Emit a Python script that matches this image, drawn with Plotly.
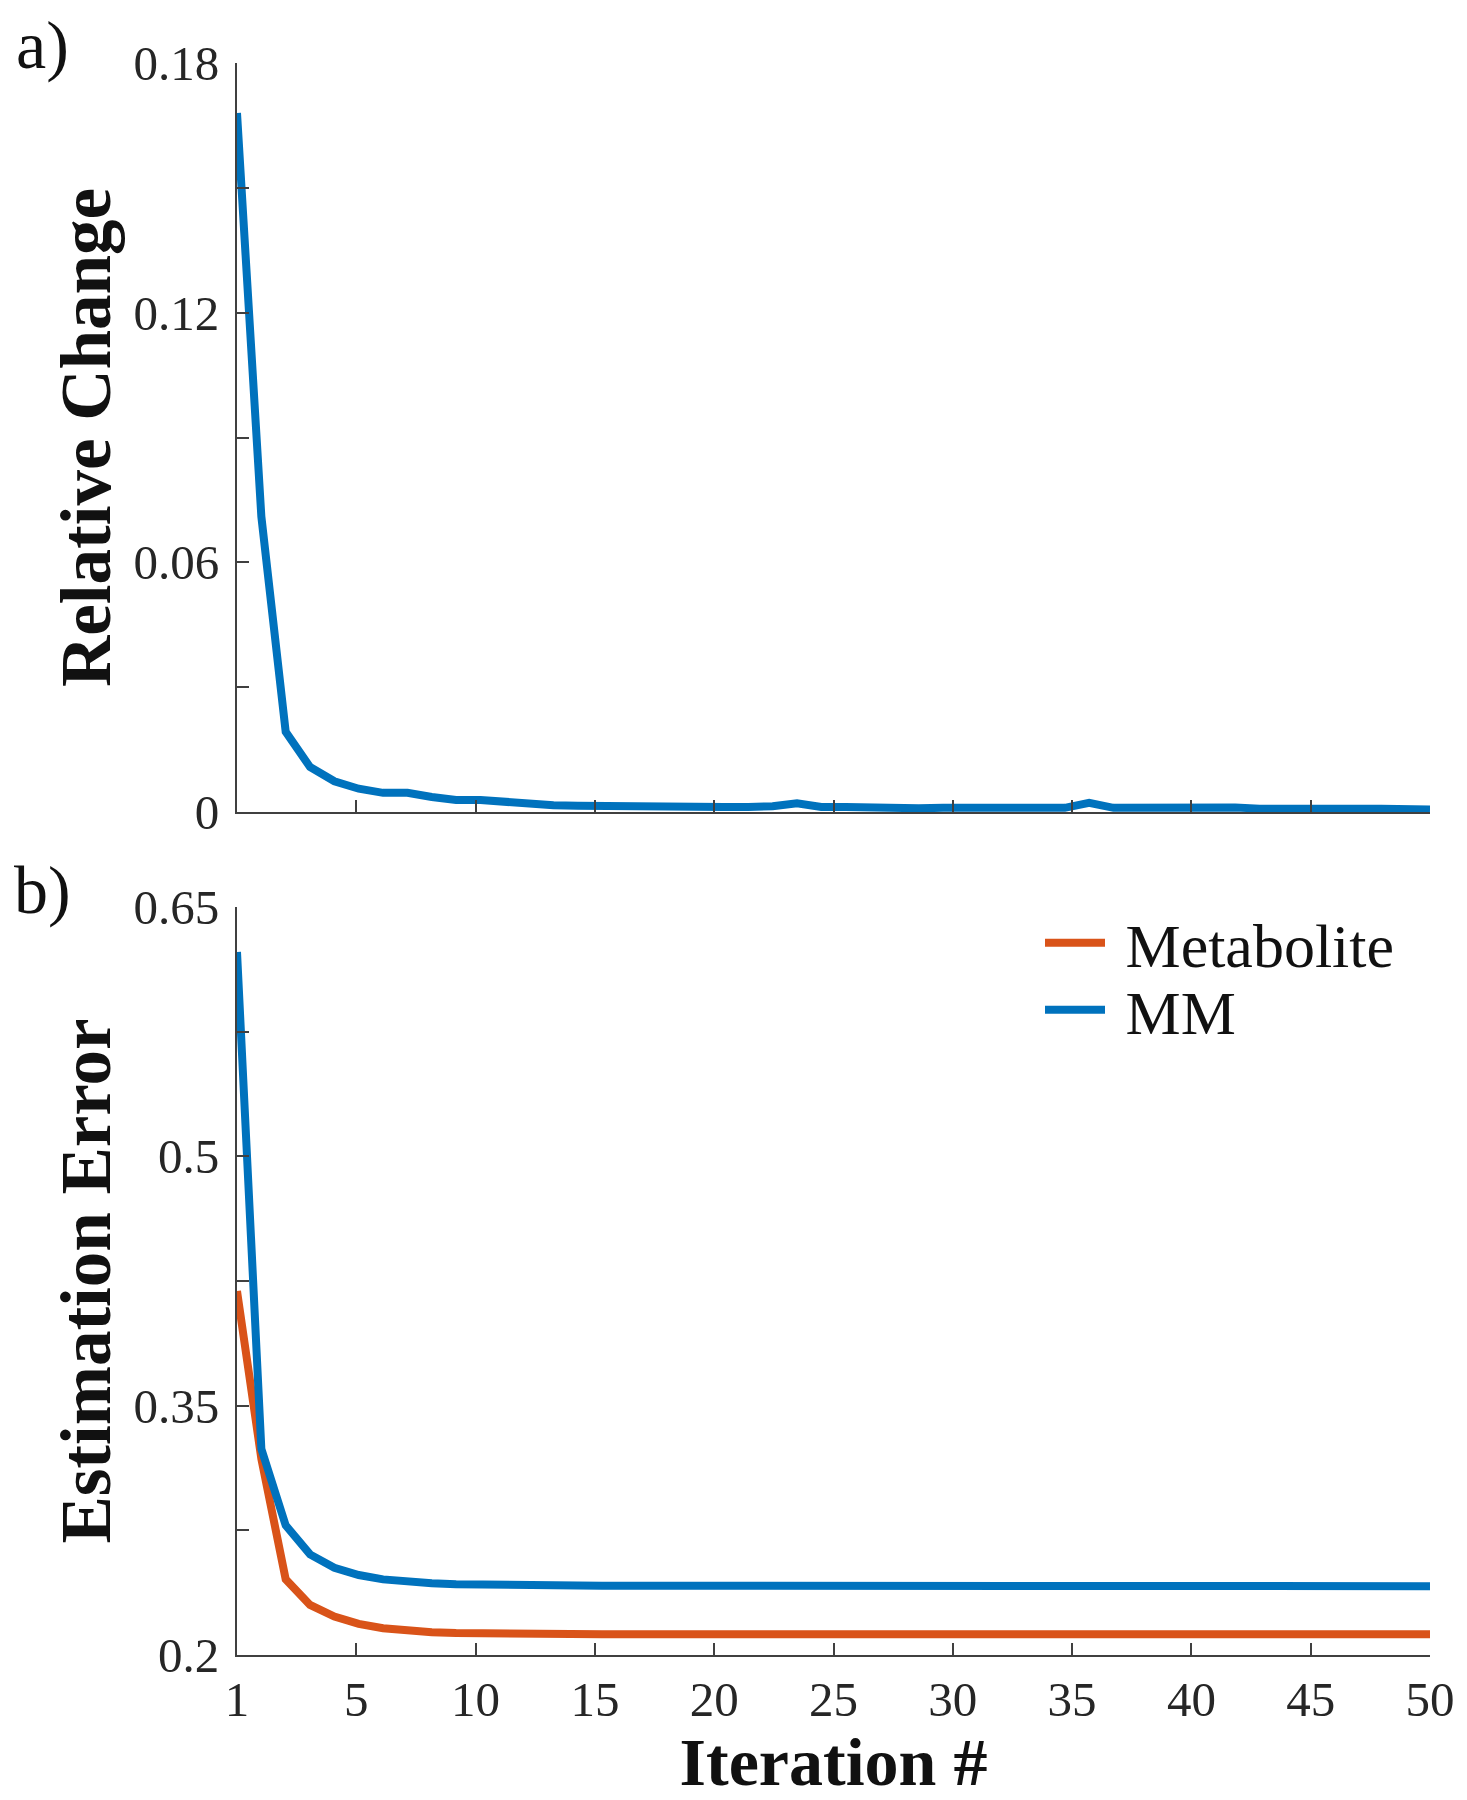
import plotly.graph_objects as go

iterations = list(range(1, 51))

relative_change = [
    0.168, 0.071, 0.0193, 0.0108, 0.0074, 0.0056, 0.0046, 0.0046, 0.0036, 0.0029,
    0.0029, 0.0025, 0.0017, 0.0016, 0.0015, 0.0014, 0.0012, 0.0011, 0.0011, 0.0011,
    0.0012, 0.0012, 0.0014, 0.0021, 0.0012, 0.0012, 0.0010, 0.0009, 0.0009, 0.0010,
    0.0009, 0.0009, 0.0010, 0.0010, 0.0010, 0.0022, 0.0010, 0.0011, 0.0011, 0.0013,
    0.0010, 0.0011, 0.0008, 0.0007, 0.0007, 0.0007, 0.0008, 0.0008, 0.0007, 0.0006,
]

metabolite_error = [
    0.419, 0.318, 0.2455, 0.2301, 0.2231, 0.2187, 0.2161, 0.2145, 0.2137, 0.2132,
    0.2129, 0.2127, 0.2126, 0.2125, 0.2125, 0.2125, 0.2125, 0.2125, 0.2125, 0.2125,
    0.2125, 0.2125, 0.2125, 0.2125, 0.2125, 0.2125, 0.2125, 0.2125, 0.2125, 0.2125,
    0.2125, 0.2125, 0.2125, 0.2125, 0.2125, 0.2125, 0.2125, 0.2125, 0.2125, 0.2125,
    0.2125, 0.2125, 0.2125, 0.2125, 0.2125, 0.2125, 0.2125, 0.2125, 0.2125, 0.2125,
]

mm_error = [
    0.623, 0.324, 0.278, 0.2605, 0.2525, 0.2481, 0.2455, 0.2440, 0.2431, 0.2426,
    0.2422, 0.2420, 0.2419, 0.2418, 0.2418, 0.2417, 0.2417, 0.2416, 0.2416, 0.2416,
    0.2415, 0.2415, 0.2415, 0.2415, 0.2415, 0.2415, 0.2415, 0.2415, 0.2415, 0.2415,
    0.2414, 0.2414, 0.2414, 0.2414, 0.2414, 0.2414, 0.2414, 0.2414, 0.2414, 0.2414,
    0.2414, 0.2414, 0.2414, 0.2414, 0.2414, 0.2414, 0.2414, 0.2414, 0.2414, 0.2414,
]

# tick labels as printed; in the original the ticks sit on a 0..50 grid stretched over iterations 1..50
x_tick_grid = [0, 5, 10, 15, 20, 25, 30, 35, 40, 45, 50]
x_ticktext = ["1", "5", "10", "15", "20", "25", "30", "35", "40", "45", "50"]
top_tickvals = [0, 0.03, 0.06, 0.09, 0.12, 0.15, 0.18]
top_ticktext = ["0", "", "0.06", "", "0.12", "", "0.18"]
bot_tickvals = [0.2, 0.275, 0.35, 0.425, 0.5, 0.575, 0.65]
bot_ticktext = ["0.2", "", "0.35", "", "0.5", "", "0.65"]

it_min, it_max = iterations[0], iterations[-1]
x_tickvals = [it_min + g * (it_max - it_min) / x_tick_grid[-1] for g in x_tick_grid]

BLUE = "#0072BD"
ORANGE = "#D95319"
AXC = "#404040"
FONT = "Liberation Serif"
LW = 8

# page offset from the default 8px body margin
OFF = 8
W, H = 1467 - OFF, 1800 - OFF
# plot area in page pixels: x 237..1430, y 63..1655
PX0, PX1, PY0, PY1 = 237, 1430, 63, 1655
L, R = PX0 - OFF, (W + OFF) - PX1
T, B = PY0 - OFF, (H + OFF) - PY1
plot_w = PX1 - PX0
plot_h = PY1 - PY0


def px_x(p):
    return (p - PX0) / plot_w


def px_y(p):
    return (PY1 - p) / plot_h


top_dom = [px_y(812), 1.0]
bot_dom = [0.0, px_y(907)]

fig = go.Figure()
fig.add_trace(go.Scatter(x=iterations, y=relative_change, mode="lines",
                         line=dict(color=BLUE, width=LW), showlegend=False,
                         xaxis="x", yaxis="y"))
fig.add_trace(go.Scatter(x=iterations, y=metabolite_error, mode="lines", name=" Metabolite",
                         line=dict(color=ORANGE, width=LW), xaxis="x2", yaxis="y2",
                         legend="legend"))
fig.add_trace(go.Scatter(x=iterations, y=mm_error, mode="lines", name=" MM",
                         line=dict(color=BLUE, width=LW), xaxis="x2", yaxis="y2",
                         legend="legend2"))

tickfont = dict(family=FONT, size=49, color="#262626")
common_x = dict(range=[it_min, it_max], tickvals=x_tickvals, showline=True, linecolor=AXC,
                linewidth=2, ticks="inside", ticklen=12, tickwidth=2, tickcolor=AXC,
                showgrid=False, zeroline=False, tickfont=tickfont)
common_y = dict(showline=True, linecolor=AXC, linewidth=2, ticks="inside", ticklen=12,
                tickwidth=2, tickcolor=AXC, showgrid=False, zeroline=False, tickfont=tickfont,
                ticklabelstandoff=6)

legfont = dict(family=FONT, size=62, color="#111111")

fig.update_layout(
    width=W, height=H,
    margin=dict(l=L, r=R, t=T, b=B, autoexpand=False),
    paper_bgcolor="white", plot_bgcolor="white",
    font=dict(family=FONT, color="#111111"),
    xaxis=dict(common_x, anchor="y", domain=[0, 1], ticktext=[""] * len(x_tickvals)),
    yaxis=dict(common_y, anchor="x", domain=top_dom, range=[0, 0.18],
               tickvals=top_tickvals, ticktext=top_ticktext,
               title=dict(text="Relative Change", standoff=0,
                          font=dict(family=FONT, size=71, weight="bold", color="#111111"))),
    xaxis2=dict(common_x, anchor="y2", domain=[0, 1], ticktext=x_ticktext,
                ticklabelstandoff=0,
                title=dict(text="Iteration #", standoff=10,
                           font=dict(family=FONT, size=68, weight="bold", color="#111111"))),
    yaxis2=dict(common_y, anchor="x2", domain=bot_dom, range=[0.2, 0.65],
                tickvals=bot_tickvals, ticktext=bot_ticktext,
                title=dict(text="Estimation Error", standoff=0,
                           font=dict(family=FONT, size=71, weight="bold", color="#111111"))),
    legend=dict(x=px_x(1040), y=px_y(896), xanchor="left", yanchor="top",
                font=legfont, bgcolor="rgba(0,0,0,0)", itemwidth=60),
    legend2=dict(x=px_x(1040), y=px_y(963), xanchor="left", yanchor="top",
                 font=legfont, bgcolor="rgba(0,0,0,0)", itemwidth=60),
    annotations=[
        dict(text="a)", x=px_x(42), y=px_y(45), xref="paper", yref="paper",
             showarrow=False, font=dict(family=FONT, size=68, color="#111111"),
             xanchor="center", yanchor="middle"),
        dict(text="b)", x=px_x(42), y=px_y(890), xref="paper", yref="paper",
             showarrow=False, font=dict(family=FONT, size=68, color="#111111"),
             xanchor="center", yanchor="middle"),
    ],
)

fig.write_html("out.html")
